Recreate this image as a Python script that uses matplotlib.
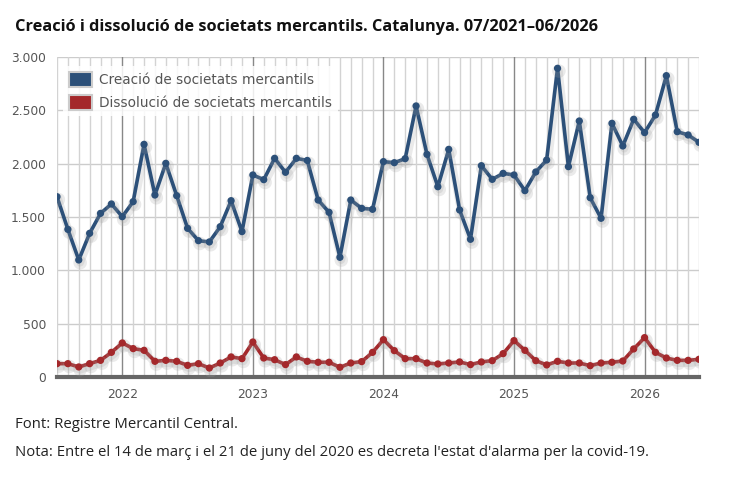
import matplotlib
matplotlib.use("Agg")
import matplotlib.pyplot as plt
import matplotlib.patheffects as pe
import matplotlib.transforms as mtransforms
from matplotlib.patches import Rectangle
import numpy as np

months = [f"{m:02d}/{y}" for y in range(2021, 2027) for m in range(1, 13)][6:66]
creacio = [1690, 1384, 1097, 1347, 1534, 1622, 1503, 1644, 2181, 1706, 2003, 1700,
           1394, 1278, 1266, 1409, 1653, 1363, 1894, 1850, 2050, 1919, 2050, 2030,
           1659, 1544, 1122, 1659, 1581, 1572, 2019, 2009, 2047, 2541, 2087, 1784,
           2134, 1566, 1291, 1981, 1853, 1909, 1894, 1747, 1922, 2034, 2894, 1972,
           2400, 1681, 1488, 2378, 2166, 2416, 2291, 2456, 2825, 2300, 2269, 2200]
dissolucio = [125, 125, 94, 125, 156, 231, 319, 266, 250, 147, 156, 147,
              109, 125, 84, 131, 188, 172, 328, 178, 162, 116, 188, 147,
              138, 138, 91, 131, 144, 231, 350, 247, 172, 172, 131, 122,
              131, 141, 116, 141, 153, 219, 341, 250, 153, 113, 147, 131,
              131, 106, 131, 138, 150, 263, 369, 231, 178, 156, 156, 166]
year_labels = ["2022", "2023", "2024", "2025", "2026"]
series_names = ["Creació de societats mercantils", "Dissolució de societats mercantils"]
colors = ["#2c5079", "#a4282b"]

plt.rcParams['font.family'] = ['Open Sans', 'DejaVu Sans']
fig = plt.figure(figsize=(7.5, 4.99), dpi=100)
ax = fig.add_axes([57/750, 1 - 377/499, (699-57)/750, (377-57)/499])

x = np.arange(len(months))
shadow = [pe.SimpleLineShadow(offset=(1, -2), shadow_color='#a0a0a0', alpha=0.22, linewidth=5.5), pe.Normal()]
for vals, c, name in zip([creacio, dissolucio], colors, series_names):
    ax.plot(x, vals, color=c, lw=2.6, marker='o', ms=4.2, label=name, path_effects=shadow, zorder=3)

ax.set_xlim(0, len(months) - 1)
ax.set_ylim(0, 3000)
ax.set_yticks(np.arange(0, 3001, 500))
ax.set_yticklabels([f"{v:,}".replace(",", ".") for v in range(0, 3001, 500)],
                   color='#555555', fontsize=8.8, family='DejaVu Sans')
for v in range(500, 3001, 500):
    ax.axhline(v, color='#cccccc', lw=1, zorder=1)
jan_idx = [i for i, m in enumerate(months) if m.startswith("01/")]
for i in range(len(months)):
    if i in jan_idx:
        ax.axvline(i, color='#888888', lw=1, zorder=1)
    else:
        ax.axvline(i, color='#d3d3d3', lw=1, zorder=1)
ax.set_xticks(jan_idx)
ax.set_xticklabels(year_labels, color='#555555', fontsize=8.8, family='DejaVu Sans')
offset = mtransforms.ScaledTranslation(9/100, 0, fig.dpi_scale_trans)
for lab in ax.get_xticklabels():
    lab.set_transform(lab.get_transform() + offset)
ax.tick_params(length=0, pad=8)
ax.tick_params(axis='y', pad=8)
for s in ['top', 'left', 'right']:
    ax.spines[s].set_visible(False)
ax.spines['bottom'].set_color('#666666')
ax.spines['bottom'].set_linewidth(3)

handles = [Rectangle((0, 0), 1, 1, facecolor=c, edgecolor='#cccccc', lw=1.5) for c in colors]
leg = ax.legend(handles, series_names, loc='upper left', bbox_to_anchor=(0.003, 0.985), frameon=True,
                prop={'family': 'DejaVu Sans', 'size': 9.8}, handlelength=1.7, handleheight=1.3,
                borderpad=0.45, labelspacing=0.6, handletextpad=0.5, borderaxespad=0.3)
leg.get_frame().set_edgecolor('none')
leg.get_frame().set_facecolor('white')
leg.get_frame().set_alpha(0.85)
leg.get_frame().set_boxstyle('square', pad=0.0)
for t in leg.get_texts():
    t.set_color('#555555')

fig.text(15/750, 1 - 27/499, "Creació i dissolució de societats mercantils. Catalunya. 07/2021–06/2026",
         fontsize=11.8, fontweight='bold', va='center', ha='left', color='#111111')
fig.text(15/750, 1 - 425/499, "Font: Registre Mercantil Central.", fontsize=10.7, va='center', ha='left', color='#222222')
fig.text(15/750, 1 - 453/499, "Nota: Entre el 14 de març i el 21 de juny del 2020 es decreta l'estat d'alarma per la covid-19.",
         fontsize=10.7, va='center', ha='left', color='#222222')

fig.savefig("out.png", dpi=100)
